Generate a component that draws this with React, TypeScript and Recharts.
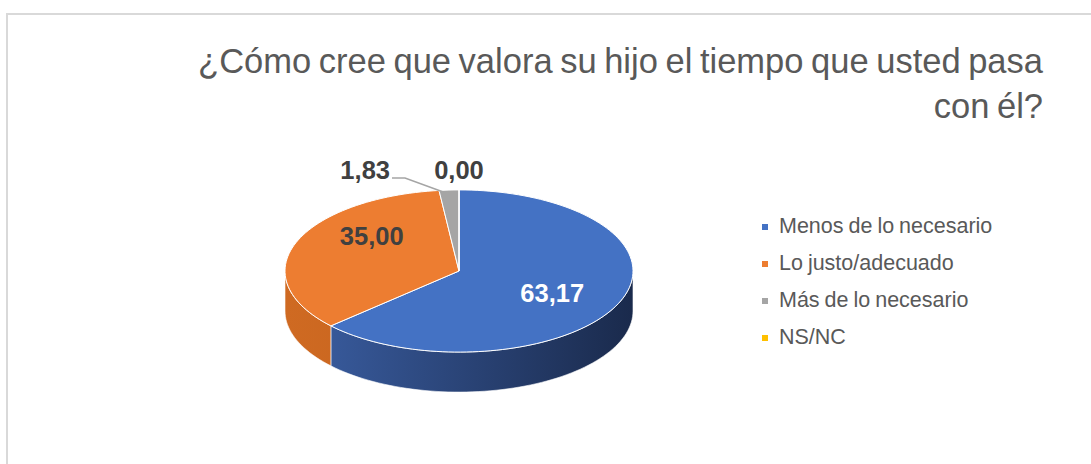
import React from 'react';
import { PieChart, Pie, Cell, Legend } from 'recharts';

const categories = ['Menos de lo necesario', 'Lo justo/adecuado', 'Más de lo necesario', 'NS/NC'];
const values = [63.17, 35.0, 1.83, 0.0];
const colors = ['#4472C4', '#ED7D31', '#A5A5A5', '#FFC000'];
const sideColors = [
  ['#3b5fa4', '#1a2a4c'],
  ['#cf6a22', '#b95a18'],
  ['#8c8c8c', '#7a7a7a'],
  ['#d9a300', '#c99400'],
];
const titleLines = ['¿Cómo cree que valora su hijo el tiempo que usted pasa', 'con él?'];

const data = categories.map((name, i) => ({ name, value: values[i] }));

const W = 1091;
const H = 464;
const TILT = 0.466;
const DEPTH = 40;
const RAD = Math.PI / 180;
const FONT = '"Liberation Sans", Arial, sans-serif';

const fmt = (v: number) => v.toFixed(2).replace('.', ',');

const pt = (cx: number, cy: number, rx: number, ry: number, a: number) => [
  cx + rx * Math.cos(a * RAD),
  cy - ry * Math.sin(a * RAD),
];

// elliptical slice with a side wall on the front half
const renderSlice = (props: any) => {
  const { cx, cy, outerRadius, startAngle, endAngle, index } = props;
  const rx = outerRadius;
  const ry = outerRadius * TILT;
  const lo = Math.min(startAngle, endAngle);
  const hi = Math.max(startAngle, endAngle);
  const i = index ?? 0;

  const top: string[] = [`M${cx},${cy}`];
  const steps = Math.max(2, Math.ceil((hi - lo) / 2));
  for (let k = 0; k <= steps; k++) {
    const [x, y] = pt(cx, cy, rx, ry, lo + ((hi - lo) * k) / steps);
    top.push(`L${x},${y}`);
  }
  top.push('Z');

  const sides: string[] = [];
  for (const off of [-360, 0, 360]) {
    const a1 = Math.max(lo, -180 + off);
    const a2 = Math.min(hi, 0 + off);
    if (a2 - a1 <= 0.01) continue;
    const n = Math.max(2, Math.ceil((a2 - a1) / 2));
    const up: string[] = [];
    const down: string[] = [];
    for (let k = 0; k <= n; k++) {
      const [x, y] = pt(cx, cy, rx, ry, a1 + ((a2 - a1) * k) / n);
      up.push(`${x},${y}`);
      down.unshift(`${x},${y + DEPTH}`);
    }
    sides.push(`M${up.join(' L')} L${down.join(' L')} Z`);
  }

  const gid = `side-grad-${i}`;
  return (
    <g>
      <defs>
        <linearGradient id={gid} gradientUnits="userSpaceOnUse" x1={cx - rx} y1={0} x2={cx + rx} y2={0}>
          <stop offset="0%" stopColor={sideColors[i][0]} />
          <stop offset="100%" stopColor={sideColors[i][1]} />
        </linearGradient>
      </defs>
      {sides.map((d, k) => (
        <path key={k} d={d} fill={`url(#${gid})`} stroke="#ffffff" strokeWidth={0.6} />
      ))}
      <path d={top.join(' ')} fill={colors[i]} stroke="#ffffff" strokeWidth={1} />
    </g>
  );
};

const renderLabel = (props: any) => {
  const { cx, cy, outerRadius, midAngle, value, index, percent } = props;
  const rx = outerRadius;
  const ry = outerRadius * TILT;
  if (percent > 0.05) {
    const x = cx + 0.56 * rx * Math.cos(midAngle * RAD) + 4;
    const y = cy - 0.56 * rx * 0.78 * Math.sin(midAngle * RAD) - 9;
    return (
      <text
        x={x}
        y={y}
        dy="0.36em"
        textAnchor="middle"
        fill={index === 0 ? '#ffffff' : '#404040'}
        fontFamily={FONT}
        fontWeight="bold"
        fontSize={25.5}
      >
        {fmt(value)}
      </text>
    );
  }
  const [px, py] = pt(cx, cy, rx, ry, midAngle);
  if (value > 0) {
    return (
      <g>
        <polyline
          points={`${px - 3},${py + 3} ${px - 44},${py - 12} ${px - 57},${py - 12}`}
          fill="none"
          stroke="#a5a5a5"
          strokeWidth={1.5}
        />
        <text x={px - 59} y={py - 11} textAnchor="end" fill="#404040" fontFamily={FONT} fontWeight="bold" fontSize={25.5}>
          {fmt(value)}
        </text>
      </g>
    );
  }
  return (
    <text x={px} y={py - 11} textAnchor="middle" fill="#404040" fontFamily={FONT} fontWeight="bold" fontSize={25.5}>
      {fmt(value)}
    </text>
  );
};

const renderLegend = (props: any) => {
  const payload = props.payload || [];
  return (
    <ul style={{ listStyle: 'none', margin: 0, padding: 0 }}>
      {payload.map((entry: any, i: number) => (
        <li key={i} style={{ height: 37, display: 'flex', alignItems: 'center' }}>
          <span
            style={{
              display: 'inline-block',
              width: 6,
              height: 6,
              background: entry.color,
              marginRight: 11,
            }}
          />
          <span style={{ color: '#595959', fontSize: 21.5, fontFamily: FONT, wordSpacing: -1 }}>{entry.value}</span>
        </li>
      ))}
    </ul>
  );
};

export default function App() {
  return (
    <div style={{ position: 'absolute', left: 0, top: 0, width: W, height: H, overflow: 'hidden', background: '#ffffff' }}>
      <div
        style={{
          position: 'absolute',
          left: 6,
          top: 13,
          width: 1200,
          height: 600,
          border: '2px solid #d9d9d9',
          boxSizing: 'border-box',
        }}
      />
      <div
        style={{
          position: 'absolute',
          right: 48,
          top: 39,
          textAlign: 'right',
          color: '#595959',
          fontFamily: FONT,
          fontSize: 34.5,
          wordSpacing: -2,
          lineHeight: '45px',
          whiteSpace: 'nowrap',
        }}
      >
        {titleLines.map((t, i) => (
          <div key={i}>{t}</div>
        ))}
      </div>
      <div style={{ position: 'absolute', left: 0, top: 0 }}>
        <PieChart width={W} height={H} margin={{ top: 0, right: 0, bottom: 0, left: 0 }}>
          <Pie
            data={data}
            dataKey="value"
            nameKey="name"
            cx={459}
            cy={271}
            outerRadius={174}
            startAngle={90}
            endAngle={-270}
            isAnimationActive={false}
            shape={renderSlice}
            activeShape={renderSlice}
            inactiveShape={renderSlice}
            label={renderLabel}
            labelLine={false}
          >
            {data.map((d, i) => (
              <Cell key={d.name} fill={colors[i]} />
            ))}
          </Pie>
          <Legend
            layout="vertical"
            align="right"
            verticalAlign="top"
            content={renderLegend}
            itemSorter={(item: any) => categories.indexOf(item.value)}
            wrapperStyle={{ left: 762, top: 208, width: 320 }}
          />
        </PieChart>
      </div>
    </div>
  );
}
